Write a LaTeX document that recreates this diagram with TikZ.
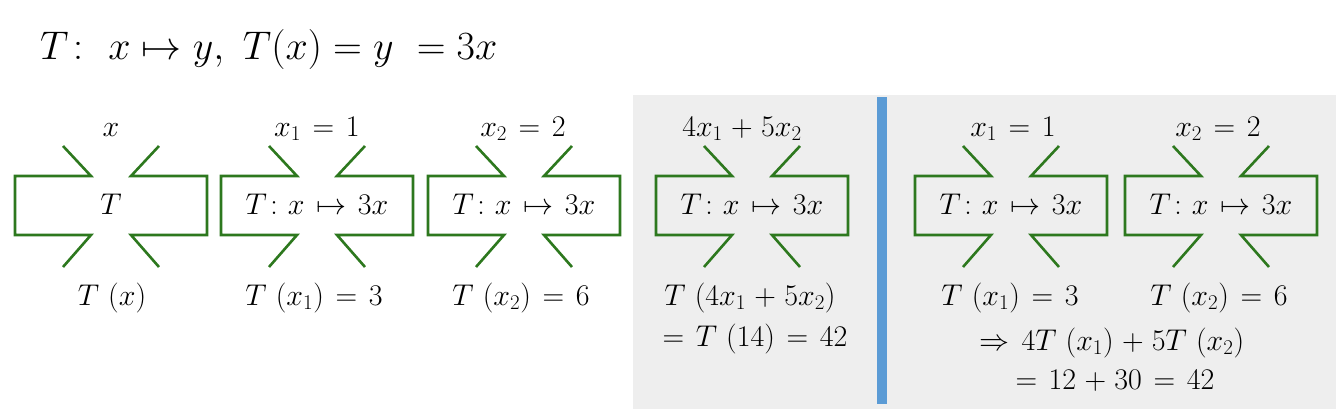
\RequirePackage{fix-cm}
\documentclass[tikz,border=0pt]{standalone}
\usepackage{amsmath}
\definecolor{fgreen}{RGB}{45,120,30}
\definecolor{barblue}{RGB}{91,155,213}
\definecolor{panelgray}{RGB}{238,238,238}
\thickmuskip=7mu plus 2mu
\medmuskip=5mu plus 2mu
\begin{document}
\begin{tikzpicture}[x=1pt,y=-1pt,
  fshape/.style={draw=fgreen, line width=2.6pt, line join=miter},
  lbl/.style={anchor=base, inner sep=0pt, font=\fontsize{30}{36}\selectfont}]
\useasboundingbox (0,0) rectangle (1341,409);
\fill[panelgray] (633,95) rectangle (1336,409);
\fill[barblue] (877,97) rectangle (887,404);
\node[lbl, anchor=base west, font=\fontsize{40}{48}\selectfont] (title) at (40,60) {\thickmuskip=5mu\medmuskip=4mu$T\colon\ x \mapsto y,\ T(x) = y\ = 3x$};
\foreach \c in {111,317,524,752,1011,1221}{
  \draw[fshape] (\c-48,146) -- (\c-20,176) -- (\c-96,176) -- (\c-96,235) -- (\c-20,235) -- (\c-48,267);
  \draw[fshape] (\c+48,146) -- (\c+20,176) -- (\c+96,176) -- (\c+96,235) -- (\c+20,235) -- (\c+48,267);
}
% box texts
\node[lbl] (ta) at (111,214) {$T$};
\node[lbl] (tb) at (317,214) {$T\colon x \mapsto 3x$};
\node[lbl] (tc) at (524,214) {$T\colon x \mapsto 3x$};
\node[lbl] (td) at (752,214) {$T\colon x \mapsto 3x$};
\node[lbl] (te) at (1011,214) {$T\colon x \mapsto 3x$};
\node[lbl] (tf) at (1221,214) {$T\colon x \mapsto 3x$};
% inputs
\node[lbl] (ia) at (111,136) {$x$};
\node[lbl] (ib) at (317,136) {$x_1 = 1$};
\node[lbl] (ic) at (523,136) {$x_2 = 2$};
\node[lbl] (id) at (742,136) {$4x_1 + 5x_2$};
\node[lbl] (ie) at (1013,136) {$x_1 = 1$};
\node[lbl] (if) at (1218,136) {$x_2 = 2$};
% outputs
\node[lbl] (oa) at (112,305) {$T\ (x)$};
\node[lbl] (ob) at (314,305) {$T\ (x_1) = 3$};
\node[lbl] (oc) at (521,305) {$T\ (x_2) = 6$};
\node[lbl] (od) at (750,305) {$T\ (4x_1 + 5x_2)$};
\node[lbl] (od2) at (755,346) {$= T\ (14) = 42$};
\node[lbl] (oe) at (1010,305) {$T\ (x_1) = 3$};
\node[lbl] (of) at (1219,305) {$T\ (x_2) = 6$};
\node[lbl] (sum1) at (1112,350) {$\Rightarrow 4T\ (x_1) + 5T\ (x_2)$};
\node[lbl] (sum2) at (1115,389) {$= 12 + 30 = 42$};
\end{tikzpicture}
\end{document}
